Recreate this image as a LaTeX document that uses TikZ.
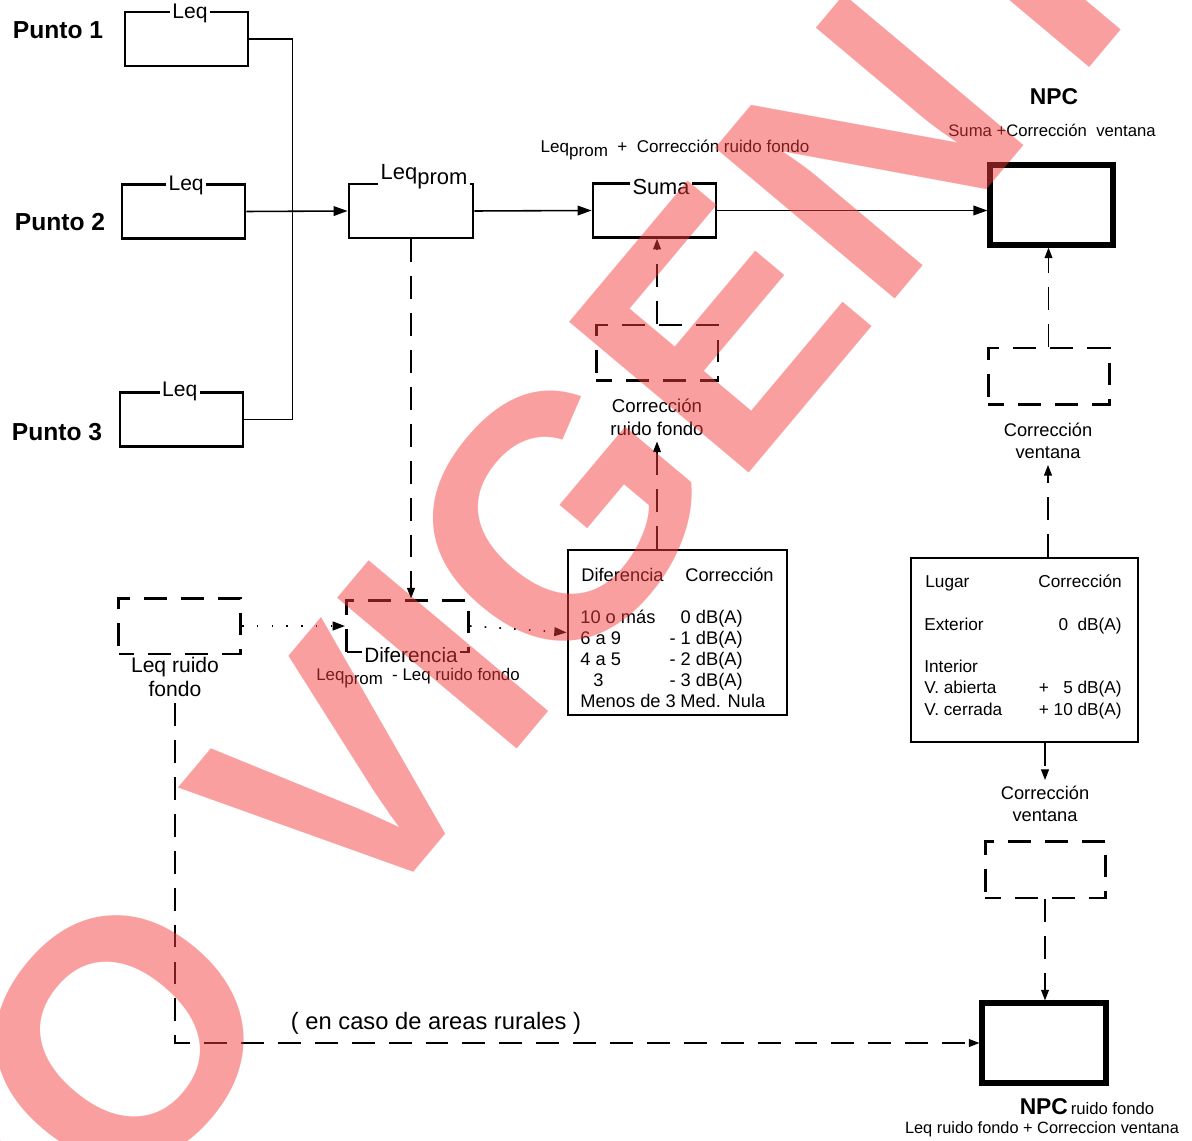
\documentclass[tikz,border=0pt]{standalone}
\usepackage{fontspec}
\setmainfont{Liberation Sans}
\usetikzlibrary{arrows.meta,positioning}
\definecolor{stamp}{RGB}{245,60,60}
\newcommand{\fsz}[2]{\fontsize{#1}{#2}\selectfont}
\newcommand{\lsub}[1]{\raisebox{-0.45ex}{#1}}
\tikzset{
  box/.style={draw, line width=1.6pt, minimum width=2.46cm, minimum height=1.08cm},
  npcbox/.style={draw, line width=3pt, minimum width=2.46cm, minimum height=1.6cm},
  dashbox/.style={draw, line width=1.7pt, dash pattern=on 13pt off 8pt, dash phase=4pt, minimum width=2.44cm, minimum height=1.12cm},
  tablebox/.style={draw, line width=1.6pt},
  cell/.style={inner sep=0pt},
  edgelabel/.style={fill=white, inner sep=1.5pt},
  flow/.style={line width=0.9pt, -{Triangle[length=8pt,width=5.5pt]}},
  dflow/.style={line width=0.6pt, dash pattern=on 13pt off 8pt, -{Triangle[length=6pt,width=4.5pt]}},
  oflow/.style={line width=0.9pt, dash pattern=on 0.9pt off 7.5pt, -{Triangle[length=7pt,width=5pt]}},
}
\begin{document}
\begin{tikzpicture}[x=0.02cm, y=-0.02cm, font=\fsz{10.4}{12.5}]
\useasboundingbox (0,0) rectangle (1192,1141);

% puntos de medicion
\node[box] (p1) at (186.5,39) {};
\node[box] (p2) at (183.5,211.5) {};
\node[box] (p3) at (181.5,419.5) {};
\node[font=\bfseries\fsz{14}{16}] (n1) at (58,30) {Punto 1};
\node[font=\bfseries\fsz{14}{16}] (n2) at (60,222) {Punto 2};
\node[font=\bfseries\fsz{14}{16}] (n3) at (57,432) {Punto 3};
\node[edgelabel, font=\fsz{12}{14}] (l1) at ([xshift=2pt,yshift=-1.5pt]p1.north) {Leq};
\node[edgelabel, font=\fsz{12}{14}] (l2) at ([xshift=1.5pt,yshift=-1.5pt]p2.north) {Leq};
\node[edgelabel, font=\fsz{12}{14}] (l3) at ([xshift=-1pt]p3.north) {Leq};

% promedio y suma
\node[box, minimum width=2.48cm] (prom) at (411,211) {};
\node[edgelabel, font=\fsz{12.5}{14}] (lprom) at (424,177) {Leq\lsub{prom}};
\node[box] (suma) at (654.5,210.5) {};
\node[edgelabel, font=\fsz{12.4}{14}] (lsuma) at (661,187) {Suma};
\node[font=\fsz{9.7}{12}] (fsuma) at (675,150) {Leq\lsub{prom} \ + \ Corrección ruido fondo};
\node[npcbox] (npc) at (1051.5,205) {};
\node[font=\bfseries\fsz{13}{15}] (tnpc) at (1054,97) {NPC};
\node[font=\fsz{9.5}{12}] (fnpc) at (1052,130) {Suma +Corrección \ ventana};

% correccion ruido de fondo
\node[dashbox] (crf) at (657,353) {};
\node[align=center, font=\fsz{10.6}{13}] (lcrf) at (657,417) {Corrección\\ruido fondo};
\node[tablebox, minimum width=4.38cm, minimum height=3.3cm] (t1) at (677.5,632.5) {};
\node[cell, anchor=base west] (t1a) at (581,581) {Diferencia};
\node[cell, anchor=base east] (t1b) at (774,581) {Corrección};
\foreach \y/\xa/\a/\b in {623/580/10 o más/0 dB(A), 644/580/6 a 9/- 1 dB(A), 665/580/4 a 5/- 2 dB(A), 686/593/3/- 3 dB(A)}{
  \node[cell, anchor=base west] (da\y) at (\xa,\y) {\a};
  \node[cell, anchor=base east] (db\y) at (743,\y) {\b};
}
\node[cell, anchor=base west] (da707) at (580,707) {Menos de 3};
\node[cell, anchor=base west] (db707) at (680,707) {Med. Nula};

% diferencia
\node[dashbox, minimum height=1.04cm] (dif) at (407.5,626) {};
\node[edgelabel, font=\fsz{11.8}{14}] (ldif) at (411,655) {Diferencia};
\node[font=\fsz{9.6}{12}] (fdif) at (418,678) {Leq\lsub{prom} \ - Leq ruido fondo};
\node[dashbox] (lrf) at (179.5,626) {};
\node[align=center, font=\fsz{12}{14}] (llrf) at (175,677) {Leq ruido\\fondo};

% correccion ventana
\node[dashbox, minimum width=2.42cm, minimum height=1.14cm] (cv1) at (1048.5,376.5) {};
\node[align=center, font=\fsz{10.4}{12.5}] (lcv1) at (1048,441) {Corrección\\ventana};
\node[tablebox, minimum width=4.54cm, minimum height=3.68cm] (t2) at (1024.5,650) {};
\begin{scope}[font=\fsz{9.8}{12}]
\node[cell, anchor=base west] (ta) at (925,587) {Lugar};
\node[cell, anchor=base east] (tb) at (1122,587) {Corrección};
\node[cell, anchor=base west] (ti) at (924,672) {Interior};
\foreach \y/\a/\b in {630/Exterior/0 \ dB(A), 693/V. abierta/+ \ \ 5 dB(A), 715/V. cerrada/+ 10 dB(A)}{
  \node[cell, anchor=base west] (ta\y) at (924,\y) {\a};
  \node[cell, anchor=base east] (tb\y) at (1122,\y) {\b};
}
\end{scope}
\node[align=center, font=\fsz{10.4}{12.5}] (lcv2) at (1045,804) {Corrección\\ventana};
\node[dashbox, minimum width=2.4cm, minimum height=1.14cm] (cv2) at (1045,869.5) {};
\node[npcbox, minimum width=2.48cm] (npc2) at (1044,1043) {};
\node[font=\fsz{9.5}{12}] (tnpc2) at (1087,1107) {{\bfseries\fsz{13}{15}NPC}\,ruido fondo};
\node[font=\fsz{9.3}{12}] (fnpc2) at (1042,1129) {Leq ruido fondo + Correccion ventana};
\node[font=\fsz{13.5}{16}] (rural) at (436,1023) {( en caso de areas rurales )};

% conexiones
\draw[line width=0.9pt] (p1.east) -| ++(43,0) |- (p3.east);
\draw[flow] (p2.east) -- (prom.west);
\draw[flow] (prom.east) -- (suma.west);
\draw[flow] (suma.east) -- (suma.east -| npc.west);
\draw[dflow] (crf.north) -- (crf.north |- suma.south);
\draw[dflow] (t1.north -| lcrf.south) -- (lcrf.south);
\draw[dflow] (prom.south) -- (prom.south |- dif.north);
\draw[oflow] (lrf.east) -- (dif.west);
\draw[oflow] (dif.east) -- (t1.west);
\draw[dflow] (llrf.south) |- (npc2.west);
\draw[dflow] (cv1.north) -- (cv1.north |- npc.south);
\draw[dflow] (t2.north -| lcv1.south) -- (lcv1.south);
\draw[dflow] (t2.south -| lcv2.north) -- (lcv2.north);
\draw[dflow] (cv2.south) -- (cv2.south |- npc2.north);

% sello
\node[font=\bfseries\fsz{194}{194}, text=stamp, text opacity=0.49, rotate=50, inner sep=0pt] (sello) at (553,524) {NO VIGENTE};
\end{tikzpicture}
\end{document}
